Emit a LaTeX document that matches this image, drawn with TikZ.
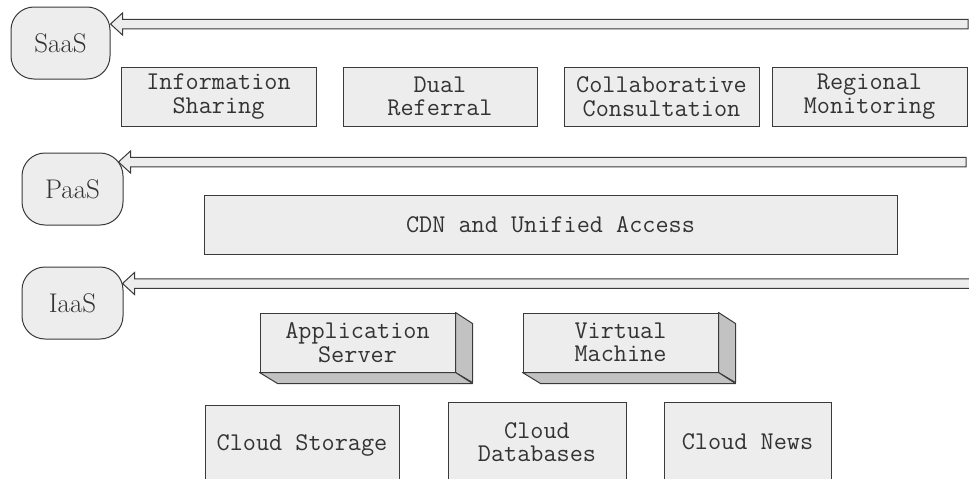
\documentclass[tikz,border=0pt]{standalone}
\usetikzlibrary{calc}
\definecolor{boxfill}{HTML}{EDEDED}
\definecolor{sidefill}{HTML}{C2C2C2}
\definecolor{edgecol}{HTML}{3A3A3A}
\definecolor{txtcol}{HTML}{333333}
\newcommand{\hollowarrow}[2]{%
  \filldraw[arrowbody] let \p1=(#1), \p2=(#2) in
    (\p1) -- (\x1+12pt,\y1+11pt) -- (\x1+12pt,\y1+4.75pt) -- (\x2,\y1+4.75pt)
    -- (\x2,\y1-4.75pt) -- (\x1+12pt,\y1-4.75pt) -- (\x1+12pt,\y1-11pt) -- cycle;}
\begin{document}
\begin{tikzpicture}[x=1pt,y=-1pt,
  every node/.style={inner sep=0pt, text=txtcol},
  layerlabel/.style={draw=edgecol, fill=boxfill, line width=1pt, rounded corners=23pt,
    minimum height=72pt, font=\fontsize{27}{29}\selectfont},
  flatbox/.style={draw=edgecol, fill=boxfill, line width=1pt, minimum height=59pt,
    align=center, font=\ttfamily\fontsize{25.5}{23.5}\selectfont},
  tallbox/.style={flatbox, minimum height=80pt},
  sideface/.style={draw=edgecol, fill=sidefill, line width=1pt, line join=round},
  arrowbody/.style={draw=edgecol, fill=boxfill, line width=1pt, line join=miter}]
\useasboundingbox (0,0) rectangle (969,479);
\clip (0,0) rectangle (969,479);
\fill[white] (0,0) rectangle (969,479);

% layer labels
\node[layerlabel, minimum width=99pt]  (saas) at (60.5,43)  {SaaS};
\node[layerlabel, minimum width=101pt] (paas) at (72.5,189) {PaaS};
\node[layerlabel, minimum width=101pt] (iaas) at (72.5,303) {IaaS};

% arrow end points
\coordinate (saasEnd) at (968,24);
\coordinate (paasEnd) at (966,162);
\coordinate (iaasEnd) at (990,283.5);
\coordinate (saasTip) at (saas.east |- saasEnd);
\coordinate (paasTip) at ($(paas.east |- paasEnd)+(-5,0)$);
\coordinate (iaasTip) at ($(iaas.east |- iaasEnd)+(-1,0)$);
\hollowarrow{saasTip}{saasEnd}
\hollowarrow{paasTip}{paasEnd}
\hollowarrow{iaasTip}{iaasEnd}

% SaaS layer
\node[flatbox, minimum width=195pt] (info)   at (218.5,96.5) {Information\\Sharing};
\node[flatbox, minimum width=194pt] (dual)   at (440,96.5)   {Dual\\Referral};
\node[flatbox, minimum width=195pt] (collab) at (661.5,96.5) {Collaborative\\Consultation};
\node[flatbox, minimum width=195pt] (region) at (869.5,96.5) {Regional\\Monitoring};

% PaaS layer
\node[flatbox, minimum width=693pt] (cdn) at (550.5,224.5) {CDN and Unified Access};

% IaaS layer: 3D boxes
\node[flatbox, minimum width=195pt] (app) at (357.5,342.5) {Application\\Server};
\node[flatbox, minimum width=195pt] (vm)  at (620.5,342.5) {Virtual\\Machine};
\foreach \n in {app,vm} {
  \filldraw[sideface] (\n.north east) -- ++(17,11) -- ++(0,59) -- (\n.south east) -- cycle;
  \filldraw[sideface] (\n.south west) -- (\n.south east) -- ++(17,11) -- ++(-195,0) -- cycle;
}

% storage row (cut at bottom)
\node[tallbox, minimum width=194pt] (storage) at (302,445) {Cloud Storage};
\node[tallbox, minimum width=178pt] (dbs)     at (537,442) {Cloud\\Databases};
\node[tallbox, minimum width=167pt] (news)    at (747.5,442) {Cloud News};
\end{tikzpicture}
\end{document}
